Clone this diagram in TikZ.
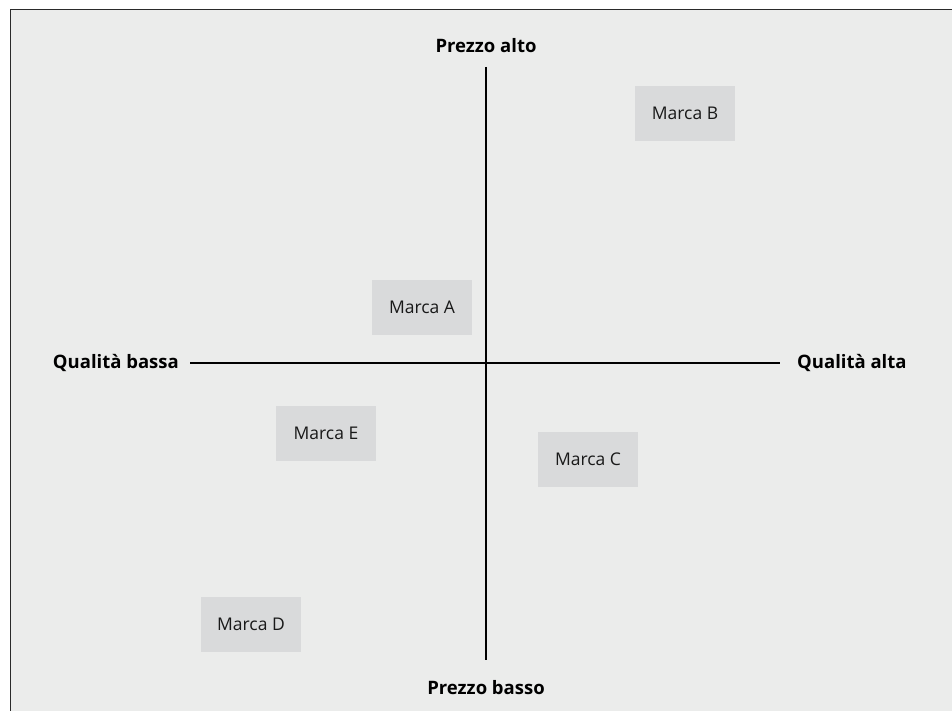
\documentclass[tikz,border=0pt]{standalone}
\usepackage{fontspec}
\setmainfont{Open Sans}
\usepackage{tikz}
\usetikzlibrary{positioning}
\definecolor{bg}{HTML}{EBECEB}
\definecolor{boxfill}{HTML}{D9DADB}
\definecolor{frame}{HTML}{2A2A2A}

\begin{document}
\begin{tikzpicture}[x=1pt,y=1pt,
 brand/.style={fill=boxfill,minimum width=100pt,minimum height=55pt,inner sep=0pt,font=\fontsize{17.5}{19}\selectfont,text=black!90},
 lab/.style={font=\fontsize{18.5}{21}\selectfont\bfseries,inner sep=0pt},
 ax/.style={line width=2pt,black}]
 \useasboundingbox (0,0) rectangle (952,-711);
 \fill[bg] (10,-9) rectangle (952,-711);
 \draw[frame,line width=1.8pt] (952,-9.5) -- (10.5,-9.5) -- (10.5,-711);
 % axes
 \coordinate (yt) at (486,-67);
 \coordinate (yb) at (486,-660);
 \coordinate (xl) at (190,-363);
 \coordinate (xr) at (780,-363);
 \draw[ax] (yt) -- (yb);
 \draw[ax] (xl) -- (xr);
 \node[lab,above=14pt of yt] (palto) {Prezzo alto};
 \node[lab,below=20pt of yb] (pbasso) {Prezzo basso};
 \node[lab,left=11pt of xl] (qbassa) {Qualità bassa};
 \node[lab,right=17pt of xr] (qalta) {Qualità alta};
 % brands
 \node[brand] (mA) at (422,-307.5) {Marca A};
 \node[brand] (mB) at (685,-113.5) {Marca B};
 \node[brand] (mC) at (588,-459.5) {Marca C};
 \node[brand] (mD) at (251,-624.5) {Marca D};
 \node[brand] (mE) at (326,-433.5) {Marca E};
\end{tikzpicture}
\end{document}
